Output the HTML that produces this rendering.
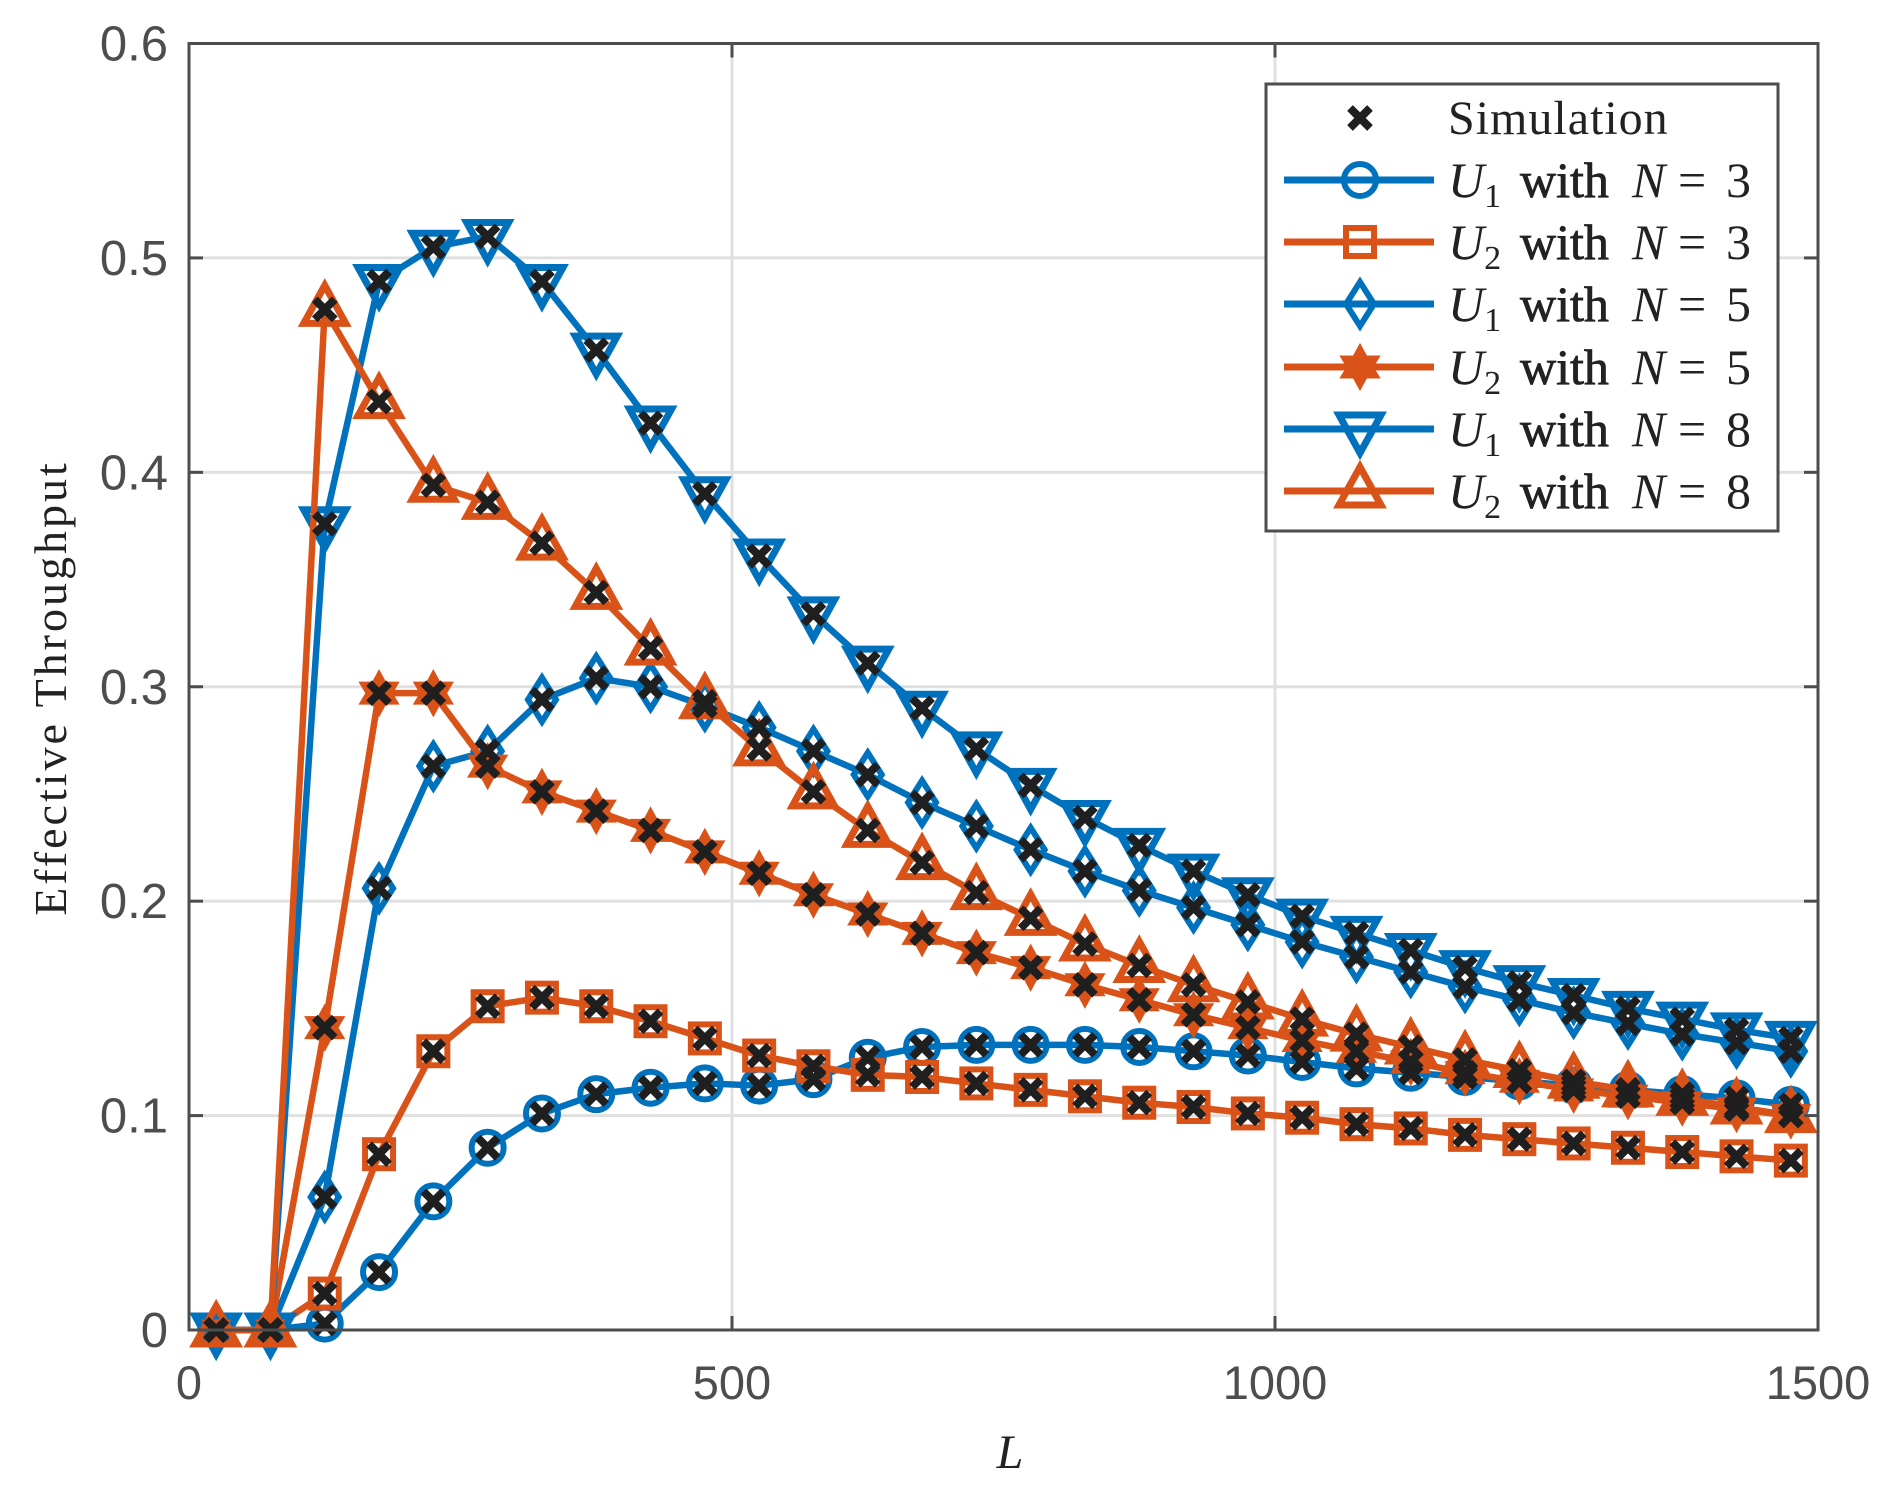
<!DOCTYPE html>
<html><head><meta charset="utf-8"><style>
html,body{margin:0;padding:0;background:#fff;}
svg{display:block;}
</style></head><body>
<svg id="chart" width="1900" height="1491" viewBox="0 0 1900 1491" xmlns="http://www.w3.org/2000/svg">
<rect width="1900" height="1491" fill="#fff"/>
<g id="grid"></g>
<g id="series"></g>
<g id="axes"></g>
<g id="legend"></g>
</svg>
<script>
const xValues = [25,75,125,175,225,275,325,375,425,475,525,575,625,675,725,775,825,875,925,975,1025,1075,1125,1175,1225,1275,1325,1375,1425,1475];
const u1n3 = [0,0,0.003,0.027,0.06,0.085,0.101,0.11,0.113,0.115,0.114,0.117,0.127,0.132,0.133,0.133,0.133,0.132,0.130,0.128,0.125,0.122,0.120,0.118,0.116,0.114,0.112,0.110,0.108,0.105];
const u2n3 = [0,0,0.017,0.082,0.130,0.151,0.155,0.151,0.144,0.136,0.128,0.123,0.119,0.118,0.115,0.112,0.109,0.106,0.104,0.101,0.099,0.096,0.094,0.091,0.089,0.087,0.085,0.083,0.081,0.079];
const u1n5 = [0,0,0.062,0.206,0.263,0.270,0.294,0.304,0.300,0.291,0.281,0.270,0.259,0.246,0.235,0.224,0.214,0.205,0.197,0.189,0.181,0.174,0.167,0.160,0.154,0.148,0.143,0.138,0.134,0.130];
const u2n5 = [0,0,0.141,0.297,0.297,0.263,0.251,0.242,0.233,0.223,0.213,0.203,0.194,0.185,0.176,0.169,0.161,0.154,0.147,0.141,0.135,0.130,0.125,0.120,0.116,0.112,0.109,0.106,0.103,0.100];
const u1n8 = [0,0,0.376,0.489,0.505,0.510,0.489,0.457,0.423,0.390,0.361,0.334,0.311,0.290,0.271,0.254,0.239,0.226,0.214,0.203,0.193,0.185,0.177,0.169,0.162,0.156,0.150,0.145,0.140,0.136];
const u2n8 = [0,0,0.476,0.433,0.394,0.386,0.367,0.344,0.318,0.293,0.271,0.251,0.233,0.218,0.204,0.192,0.180,0.170,0.161,0.153,0.145,0.138,0.132,0.126,0.121,0.116,0.112,0.108,0.104,0.100];
const xTicks = [0,500,1000,1500];
const yTicks = [0,0.1,0.2,0.3,0.4,0.5,0.6];
const xTickLabels = ["0","500","1000","1500"];
const yTickLabels = ["0","0.1","0.2","0.3","0.4","0.5","0.6"];

const L=189,R=1818,T=43.5,B=1330;
const xs=v=>L+(v-0)/1500*(R-L);
const ys=v=>B-(v-0)/0.6*(B-T);
const NS="http://www.w3.org/2000/svg";
function mk(tag,attrs,parent){const e=document.createElementNS(NS,tag);for(const k in attrs)e.setAttribute(k,attrs[k]);parent.appendChild(e);return e;}
const grid=document.getElementById('grid'),axes=document.getElementById('axes'),ser=document.getElementById('series'),leg=document.getElementById('legend');
const BLUE="#0072bd",ORANGE="#d95319",AX="#4d4d4d";

xTicks.forEach((t,i)=>{
  if(t>0&&t<1500){const g=mk('line',{x1:xs(t),x2:xs(t),y1:T,y2:B,stroke:'#e0e0e0','stroke-width':3},grid);
  }
  const tk=mk('line',{x1:xs(t),x2:xs(t),y1:B,y2:B-14,stroke:AX,'stroke-width':3},axes);
  
  const tk2=mk('line',{x1:xs(t),x2:xs(t),y1:T,y2:T+14,stroke:AX,'stroke-width':3},axes);
  
  const tx=mk('text',{x:xs(t),y:1399,'text-anchor':'middle','font-family':'Liberation Sans, sans-serif','font-size':47,fill:AX},axes);
  tx.textContent=xTickLabels[i];
  
});
yTicks.forEach((t,i)=>{
  if(t>0&&t<0.6){const g=mk('line',{x1:L,x2:R,y1:ys(t),y2:ys(t),stroke:'#e0e0e0','stroke-width':3},grid);
  }
  const tk=mk('line',{x1:L,x2:L+14,y1:ys(t),y2:ys(t),stroke:AX,'stroke-width':3},axes);
  
  const tk2=mk('line',{x1:R,x2:R-14,y1:ys(t),y2:ys(t),stroke:AX,'stroke-width':3},axes);
  
  const tx=mk('text',{x:168,y:ys(t)+17,'text-anchor':'end','font-family':'Liberation Sans, sans-serif','font-size':49,fill:AX},axes);
  tx.textContent=yTickLabels[i];
  
});
const box=mk('rect',{x:L,y:T,width:R-L,height:B-T,fill:'none',stroke:AX,'stroke-width':3},axes);

const xl=mk('text',{x:1010,y:1468,'text-anchor':'middle','font-family':'Liberation Serif, serif','font-style':'italic','font-size':48,fill:'#222'},axes);
xl.textContent='L';

const yl=mk('text',{x:0,y:0,'text-anchor':'middle','font-family':'Liberation Serif, serif','font-size':46,'letter-spacing':'3',fill:'#222',transform:'translate(66,688) rotate(-90)'},axes);
yl.textContent='Effective Throughput';


function marker(type,cx,cy,color,parent){
  let e;
  if(type==='o') e=mk('circle',{cx,cy,r:16,fill:'none',stroke:color,'stroke-width':6},parent);
  else if(type==='s') e=mk('rect',{x:cx-14,y:cy-14,width:28,height:28,fill:'none',stroke:color,'stroke-width':6},parent);
  else if(type==='d') e=mk('polygon',{points:`${cx},${cy-22} ${cx+14},${cy} ${cx},${cy+22} ${cx-14},${cy}`,fill:'none',stroke:color,'stroke-width':6},parent);
  else if(type==='h') e=mk('polygon',{points:`${cx},${cy-21} ${cx+6},${cy-10} ${cx+18},${cy-10} ${cx+12},${cy} ${cx+18},${cy+10} ${cx+6},${cy+10} ${cx},${cy+21} ${cx-6},${cy+10} ${cx-18},${cy+10} ${cx-12},${cy} ${cx-18},${cy-10} ${cx-6},${cy-10}`,fill:color,stroke:color,'stroke-width':3},parent);
  else if(type==='v') e=mk('polygon',{points:`${cx-21},${cy-14} ${cx+21},${cy-14} ${cx},${cy+24}`,fill:'none',stroke:color,'stroke-width':7},parent);
  else if(type==='^') e=mk('polygon',{points:`${cx-21},${cy+14} ${cx+21},${cy+14} ${cx},${cy-24}`,fill:'none',stroke:color,'stroke-width':7},parent);
  else if(type==='x'){e=mk('path',{d:`M${cx-10},${cy-10}L${cx+10},${cy+10}M${cx+10},${cy-10}L${cx-10},${cy+10}`,stroke:'#1f1f1f','stroke-width':8,fill:'none'},parent);}
  return e;
}
const seriesList=[
 {name:'u1-n3',vals:u1n3,color:BLUE,m:'o',sub:'1',n:'3'},
 {name:'u2-n3',vals:u2n3,color:ORANGE,m:'s',sub:'2',n:'3'},
 {name:'u1-n5',vals:u1n5,color:BLUE,m:'d',sub:'1',n:'5'},
 {name:'u2-n5',vals:u2n5,color:ORANGE,m:'h',sub:'2',n:'5'},
 {name:'u1-n8',vals:u1n8,color:BLUE,m:'v',sub:'1',n:'8'},
 {name:'u2-n8',vals:u2n8,color:ORANGE,m:'^',sub:'2',n:'8'}];
seriesList.forEach(s=>{
  const g=mk('g',{},ser);
  
  const pts=s.vals.map((v,i)=>xs(xValues[i])+','+ys(v)).join(' ');
  const pl=mk('polyline',{points:pts,fill:'none',stroke:s.color,'stroke-width':6.5,'stroke-linejoin':'round'},g);
  
  s.vals.forEach((v,i)=>{const m=marker(s.m,xs(xValues[i]),ys(v),s.color,g);
    });
});
seriesList.forEach(s=>{
  const g=mk('g',{},ser);
  
  s.vals.forEach((v,i)=>{const m=marker('x',xs(xValues[i]),ys(v),'#1f1f1f',g);
    });
});
// legend
const lb=mk('rect',{x:1266,y:84,width:512,height:447,fill:'#fff',stroke:AX,'stroke-width':3},leg);

const rows=[118,180,242,304,367,429,491];
const sm=marker('x',1360,rows[0],'#1f1f1f',leg);

const st=mk('text',{x:1448,y:rows[0]+16,'font-family':'Liberation Serif, serif','font-size':48,'letter-spacing':'1',fill:'#222'},leg);
st.textContent='Simulation';

seriesList.forEach((s,k)=>{
  const y=rows[k+1];
  const g=mk('g',{},leg);
  
  mk('line',{x1:1284,x2:1434,y1:y,y2:y,stroke:s.color,'stroke-width':7},g);
  marker(s.m,1360,y,s.color,g);
  const t=mk('text',{x:1448,y:y+17,'font-family':'Liberation Serif, serif','font-size':50,fill:'#222'},g);
  t.innerHTML=`<tspan font-style="italic">U</tspan><tspan font-size="34" dy="10">${s.sub}</tspan><tspan x="1520" dy="-10" stroke="#222" stroke-width="0.8">with</tspan><tspan x="1632" font-style="italic">N</tspan><tspan x="1678">=</tspan><tspan x="1726">${s.n}</tspan>`;
});
</script>
</body></html>
